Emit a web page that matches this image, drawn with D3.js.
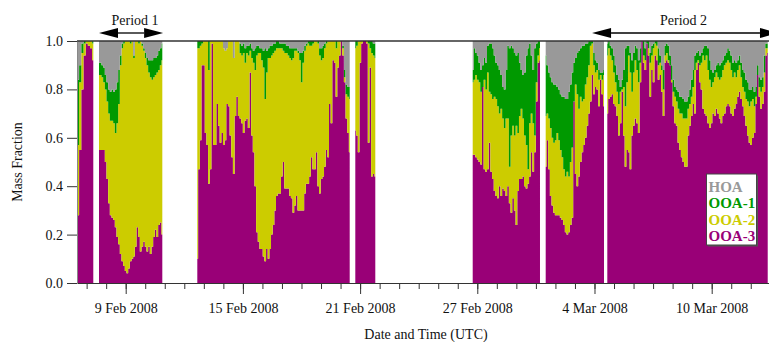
<!DOCTYPE html>
<html><head><meta charset="utf-8">
<script src="https://cdn.jsdelivr.net/npm/d3@7"></script>
<style>
body{margin:0;background:#fff}
svg{display:block}
text{font-family:"Liberation Serif","Times New Roman",serif}
</style>
</head><body>
<svg id="chart" width="769" height="342"></svg>
<script>
// ---------------- DATA ----------------
const keys = ["OOA-3", "OOA-2", "OOA-1", "HOA"];            // stack order, bottom to top
const legendOrder = ["HOA", "OOA-1", "OOA-2", "OOA-3"];
const colors = {"HOA": "#999999", "OOA-1": "#009900", "OOA-2": "#cccc00", "OOA-3": "#990077"};

// measurement segments (gaps between them have no data)
const segStart = ["2008-02-06T13:24Z","2008-02-07T15:12Z","2008-02-12T15:59Z","2008-02-20T18:07Z","2008-02-26T18:22Z","2008-03-01T12:03Z","2008-03-04T15:45Z"];
const segEnd   = ["2008-02-07T08:11Z","2008-02-10T20:59Z","2008-02-20T11:14Z","2008-02-21T18:41Z","2008-03-01T05:02Z","2008-03-04T11:41Z","2008-03-12T20:50Z"];
const segCount = [8, 39, 93, 13, 41, 36, 98];

const ooa3 = [
.28,.55,.80,.94,.99,.98,.97,.92,
.55,.55,.55,.55,.50,.43,.33,.28,.27,.26,.23,.19,.16,.12,.09,.07,.05,.04,.06,.09,.10,.11,.15,.23,.19,.13,.15,.17,.15,.13,.15,.12,.15,.19,.22,.19,.24,.25,.20,
.10,.47,.59,.90,.90,.62,.57,.41,.47,.99,.57,.57,.74,.65,.58,.62,.57,.59,.74,.73,.61,.52,.45,.69,.77,.69,.68,.66,.62,.67,.68,.64,.87,.61,.54,.40,.21,.17,.14,.14,.11,.09,.14,.10,.14,.20,.24,.30,.36,
.37,.37,.44,.50,.39,.39,.39,.36,.35,.29,.32,.36,.30,.30,.30,.30,.37,.41,.41,.44,.52,.47,.47,.54,.40,.37,.43,.44,.48,.55,.52,.74,.66,.92,.91,.77,.89,.94,1.0,.94,.83,.68,.62,.54,
.63,.61,.54,.91,.99,1.0,1.0,.99,.58,.89,.44,.45,.44,
.53,.53,.52,.51,.50,.49,.81,.47,.46,.47,.58,.46,.43,.38,.36,.35,.40,.36,.39,.38,.36,.40,.33,.29,.35,.30,.24,.38,.43,.43,.44,.40,.39,.41,.44,.54,.46,.54,.75,.91,.92,
.48,.59,.47,.36,.32,.29,.28,.28,.28,.27,.26,.24,.21,.20,.21,.24,.27,.75,.45,.40,.44,.50,.54,.57,.60,.65,.70,.75,.86,.78,.81,.80,.73,.84,.78,.73,
.70,.76,.77,.78,.74,.73,.69,.61,.66,.79,.61,.48,.55,.54,.47,.61,.65,.68,.66,.62,.83,1.0,.91,.88,.99,.94,.77,.88,.83,.94,.92,.84,.86,.79,.69,.91,.92,.91,.90,.83,.73,.66,.65,.58,.55,.52,.50,.48,.48,
.61,.65,.69,.74,.70,.88,.91,.83,.80,.72,.70,.69,.66,.64,.66,.70,.69,.72,.70,.68,.66,.69,.70,.73,.74,.73,.70,.69,.72,.74,.77,.79,.76,.73,.69,.65,.61,.58,.57,.60,.62,.74,.86,.77,.72,.74,.79,.94,.95
];
const ooa2 = [
.29,.28,.15,.05,.01,.02,.03,.07,
.31,.31,.30,.28,.30,.32,.37,.39,.40,.40,.39,.47,.58,.78,.88,.92,.95,.96,.94,.90,.90,.82,.85,.77,.80,.87,.83,.79,.78,.77,.72,.73,.69,.66,.64,.68,.64,.65,.72,
.87,.50,.39,.09,.10,.38,.43,.47,.53,.01,.43,.43,.26,.35,.42,.38,.40,.37,.23,.27,.39,.48,.48,.31,.23,.31,.27,.28,.33,.24,.27,.30,.09,.32,.37,.48,.73,.78,.81,.78,.78,.67,.73,.83,.79,.74,.71,.66,.61,
.60,.60,.53,.46,.56,.56,.55,.57,.57,.64,.64,.60,.65,.62,.53,.61,.59,.57,.58,.54,.46,.52,.53,.46,.59,.57,.49,.49,.49,.44,.48,.26,.34,.08,.09,.20,.11,.06,0,.03,.02,.10,.15,.22,
.34,.37,.46,.09,.01,0,0,.01,.41,.08,.51,.49,.49,
.30,.31,.34,.33,.33,.30,0,.37,.34,.40,.21,.32,.33,.39,.40,.38,.30,.36,.29,.26,.32,.28,.15,.32,.30,.31,.41,.24,.26,.29,.24,.21,.18,.06,.22,.16,.20,.07,.08,.03,.05,
.21,.11,.21,.28,.28,.29,.31,.34,.31,.28,.26,.23,.23,.26,.23,.26,.29,0,.37,.38,.28,.27,.21,.19,.22,.20,.20,.23,.13,.12,.06,.08,.11,.02,.06,.13,
.24,.21,.17,.14,.13,.10,.10,.13,.13,.01,.20,.25,.28,.40,.40,.18,.22,.24,.22,.21,.08,0,.03,.04,0,.03,.14,.06,.14,.05,.06,.06,.05,.09,.11,.03,.03,.01,0,.01,.06,.11,.10,.14,.15,.18,.18,.20,.20,
.11,.09,.08,.07,.18,.03,.01,.07,.11,.22,.22,.25,.22,.20,.15,.13,.16,.15,.15,.16,.19,.19,.20,.18,.18,.18,.18,.16,.15,.11,.11,.11,.09,.08,.10,.11,.14,.15,.18,.16,.11,.03,0,.04,.07,.07,.08,.03,.02
];
const ooa1 = [
.27,.07,.04,.01,0,0,0,.01,
.05,.05,.05,.06,.06,.08,.10,.12,.13,.13,.18,.17,.14,.04,.02,.01,0,0,0,.01,0,.01,0,0,.01,0,.01,.01,.02,.03,.05,.07,.08,.08,.07,.07,.08,.07,.07,
.03,.03,.02,.01,0,0,0,.12,0,0,0,0,0,0,0,0,0,0,0,0,0,0,0,0,0,0,.04,.04,.04,.06,.03,.04,.03,.04,.05,.09,.04,.03,.02,.05,.07,.21,.09,.04,.05,.04,.04,.03,.03,
.03,.02,.02,.03,.04,.03,.04,.04,.05,.04,.01,.01,.01,.03,.12,.05,.02,.01,.01,.02,.02,.01,0,0,.01,.03,.05,.05,.02,.01,0,0,0,0,0,.03,0,0,0,.01,.03,.04,.04,.05,
.03,.02,0,0,0,0,0,0,.01,.03,.05,.05,.06,
.05,.13,.09,.10,.08,.09,.09,.09,.11,.11,.20,.21,.21,.17,.15,.17,.18,.14,.13,.16,.20,.30,.49,.37,.32,.34,.29,.33,.22,.16,.18,.26,.37,.50,.33,.24,.22,.36,.16,.06,.03,
.25,.20,.19,.21,.23,.24,.23,.19,.21,.23,.25,.30,.32,.30,.35,.32,.31,.16,.11,.17,.24,.20,.23,.22,.17,.14,.10,.02,.01,.05,.05,.03,.04,.01,.03,.02,
.05,.03,.04,.05,.07,.07,.07,.10,.02,.04,.07,.24,.15,.04,.08,.13,.08,.06,.09,.09,.06,0,.06,.05,.01,.03,.04,.04,.02,.01,.02,.07,.03,.02,.08,.04,.04,.06,.04,.06,.05,.04,.05,.07,.07,.07,.08,.07,.07,
.05,.06,.07,.07,.06,.04,.04,.04,.04,.03,.06,.04,.09,.08,.07,.04,.03,.03,.06,.06,.06,.04,.04,.04,.05,.05,.06,.06,.05,.06,.04,.04,.06,.07,.08,.08,.08,.07,.05,.05,.06,.04,.04,.04,.05,.04,.07,.02,.02
];
const hoa = [
.16,.10,.01,0,0,0,0,0,
.09,.09,.10,.11,.14,.17,.20,.21,.20,.21,.20,.17,.12,.06,.01,0,0,0,0,0,0,.06,0,0,0,0,.01,.03,.05,.07,.08,.08,.08,.07,.07,.06,.04,.03,.01,
0,0,0,0,0,0,0,0,0,0,0,0,0,0,0,0,.03,.04,.03,0,0,0,.07,0,0,0,.01,.02,.01,.03,.02,.02,.01,.03,.04,.03,.02,.02,.03,.03,.04,.03,.04,.03,.02,.02,.01,.01,0,
0,.01,.01,.01,.01,.02,.02,.03,.03,.03,.03,.03,.04,.05,.05,.04,.02,.01,0,0,0,0,0,0,0,.03,.03,.02,.01,0,0,0,0,0,0,0,0,0,0,.02,.12,.18,.19,.19,
0,0,0,0,0,0,0,0,0,0,0,.01,.01,
.12,.03,.05,.06,.09,.12,.10,.07,.09,.02,.01,.01,.03,.06,.09,.10,.12,.14,.19,.20,.12,.02,.03,.02,.03,.05,.06,.05,.09,.12,.14,.13,.06,.03,.01,.06,.12,.03,.01,0,0,
.06,.10,.13,.15,.17,.18,.18,.19,.20,.22,.23,.23,.24,.24,.21,.18,.13,.09,.07,.05,.04,.03,.02,.02,.01,.01,0,0,0,.05,.08,.09,.12,.13,.13,.12,
.01,0,.02,.03,.06,.10,.14,.16,.19,.16,.12,.03,.02,.02,.05,.08,.05,.02,.03,.08,.03,0,0,.03,0,0,.05,.02,.01,0,0,.03,.06,.10,.12,.02,.01,.02,.06,.10,.16,.19,.20,.21,.23,.23,.24,.25,.25,
.23,.20,.16,.12,.06,.05,.04,.06,.05,.03,.02,.02,.03,.08,.12,.13,.12,.10,.09,.10,.09,.08,.06,.05,.03,.04,.06,.09,.08,.09,.08,.06,.09,.12,.13,.16,.17,.20,.20,.19,.21,.19,.10,.15,.16,.15,.06,.01,.01
];

const xTickDates  = ["2008-02-09","2008-02-15","2008-02-21","2008-02-27","2008-03-04","2008-03-10"];
const xTickLabels = ["9 Feb 2008","15 Feb 2008","21 Feb 2008","27 Feb 2008","4 Mar 2008","10 Mar 2008"];
const yTicks = [0, 0.2, 0.4, 0.6, 0.8, 1.0];
const periodLabels = ["Period 1", "Period 2"];
const periodStart  = ["2008-02-07T15:12Z", "2008-03-03T21:00Z"];
const periodEnd    = ["2008-02-10T22:00Z", "2008-03-13T10:40Z"];

// ---------------- CHART ----------------
const svg = d3.select("#chart");
const x = d3.scaleUtc()
  .domain([new Date("2008-02-06T12:10Z"), new Date("2008-03-12T22:25Z")])
  .range([77, 769]);
const y = d3.scaleLinear().domain([0, 1]).range([283, 41]);

svg.append("defs").append("clipPath").attr("id", "plot")
  .append("rect").attr("x", 77).attr("y", 41).attr("width", 692).attr("height", 242);

const area = d3.area()
  .x(d => x(d.data.t))
  .y0(d => y(d[0]))
  .y1(d => y(d[1]))
  .curve(d3.curveStep);

const gData = svg.append("g").attr("clip-path", "url(#plot)");
let off = 0;
segCount.forEach((n, s) => {
  const t0 = new Date(segStart[s]), t1 = new Date(segEnd[s]);
  const rows = d3.range(n).map(i => ({
    t: new Date(+t0 + (t1 - t0) * i / (n - 1)),
    "OOA-3": ooa3[off + i], "OOA-2": ooa2[off + i], "OOA-1": ooa1[off + i], "HOA": hoa[off + i]
  }));
  off += n;
  d3.stack().keys(keys)(rows).forEach(layer => {
    gData.append("path").attr("fill", colors[layer.key]).attr("d", area(layer));
  });
});

// axes
const ax = svg.append("g").attr("transform", "translate(0,283)").style("color", "#333");
ax.call(d3.axisBottom(x).ticks(d3.utcDay.every(1)).tickSize(6).tickSizeOuter(0).tickFormat(""));
const axMaj = svg.append("g").attr("transform", "translate(0,283)").style("color", "#333");
axMaj.call(d3.axisBottom(x).tickValues(xTickDates.map(d => new Date(d + "T00:00Z")))
  .tickSize(11).tickSizeOuter(0).tickFormat((d, i) => xTickLabels[i]));
axMaj.select(".domain").remove();
svg.selectAll(".tick text").attr("font-size", 14).attr("font-family", "Liberation Serif").attr("fill", "#111");
axMaj.selectAll(".tick text").attr("y", 20);

const ay = svg.append("g").attr("transform", "translate(77,0)").style("color", "#333");
ay.call(d3.axisLeft(y).tickValues(yTicks).tickSize(10).tickSizeOuter(0).tickPadding(4).tickFormat(d3.format(".1f")));
ay.selectAll(".tick text").attr("font-size", 14).attr("font-family", "Liberation Serif").attr("fill", "#111");
ay.select(".domain").attr("stroke", "#888");

// top line at 1.0
svg.append("line").attr("x1", 77).attr("x2", 769).attr("y1", y(1)).attr("y2", y(1))
  .attr("stroke", "#333").attr("stroke-width", 1.6);

// axis titles
svg.append("text").attr("x", 426).attr("y", 339).attr("text-anchor", "middle")
  .attr("font-size", 14).attr("fill", "#111").text("Date and Time (UTC)");
svg.append("text").attr("transform", "translate(22,162) rotate(-90)").attr("text-anchor", "middle")
  .attr("font-size", 14).attr("fill", "#111").text("Mass Fraction");

// period annotations
periodLabels.forEach((lab, i) => {
  const xa = x(new Date(periodStart[i])), xb = x(new Date(periodEnd[i]));
  const yy = 33, aw = 19, ah = 5;
  svg.append("line").attr("x1", xa + aw).attr("x2", xb - aw).attr("y1", yy).attr("y2", yy)
    .attr("stroke", "#000").attr("stroke-width", 1.3);
  svg.append("path").attr("fill", "#000")
    .attr("d", `M${xa},${yy}L${xa + aw},${yy - ah}L${xa + aw},${yy + ah}Z`);
  svg.append("path").attr("fill", "#000")
    .attr("d", `M${xb},${yy}L${xb - aw},${yy - ah}L${xb - aw},${yy + ah}Z`);
  svg.append("text").attr("x", i === 0 ? (xa + xb) / 2 + 4 : (xa + xb) / 2 - 2).attr("y", 25)
    .attr("text-anchor", "middle").attr("font-size", 14).attr("fill", "#111").text(lab);
});

// legend
const lg = svg.append("g").attr("transform", "translate(706.5,174)");
lg.append("rect").attr("x", 1.5).attr("y", 1.5).attr("width", 50).attr("height", 71).attr("fill", "#555");
lg.append("rect").attr("width", 50).attr("height", 71).attr("fill", "#fff").attr("stroke", "#444").attr("stroke-width", 1);
legendOrder.forEach((k, i) => {
  lg.append("text").attr("x", 2).attr("y", 17.5 + i * 16.5)
    .attr("font-size", 15).attr("font-weight", "bold").attr("fill", colors[k]).text(k);
});
</script>
</body></html>
